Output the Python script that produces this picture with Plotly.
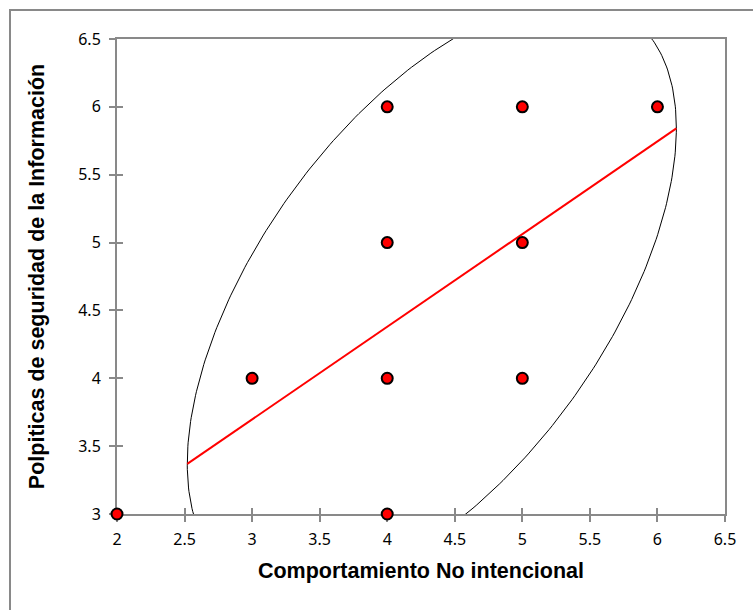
import numpy as np
import plotly.graph_objects as go

# Observed (x, y) pairs
comportamiento = [2, 3, 4, 4, 4, 4, 5, 5, 5, 6]
politicas = [3, 4, 3, 4, 5, 6, 4, 5, 6, 6]

# Bivariate summary used for the confidence ellipse and regression line
centro_x, centro_y = 4.33, 4.605
semi_x, semi_y = 1.81, 2.18
correlacion = 0.567

x_ticks = [2, 2.5, 3, 3.5, 4, 4.5, 5, 5.5, 6, 6.5]
y_ticks = [3, 3.5, 4, 4.5, 5, 5.5, 6, 6.5]

# Ellipse from the covariance structure
t = np.linspace(0, 2 * np.pi, 400)
ex = centro_x + semi_x * np.cos(t)
ey = centro_y + semi_y * (correlacion * np.cos(t) + np.sqrt(1 - correlacion ** 2) * np.sin(t))

# Regression of y on x, spanning the ellipse's x extent
pendiente = correlacion * semi_y / semi_x
rx = np.array([centro_x - semi_x, centro_x + semi_x])
ry = centro_y + pendiente * (rx - centro_x)

fig = go.Figure()
fig.add_trace(go.Scatter(x=ex, y=ey, mode="lines",
                         line=dict(color="black", width=1), hoverinfo="skip"))
fig.add_trace(go.Scatter(x=rx, y=ry, mode="lines",
                         line=dict(color="#ff0000", width=2), hoverinfo="skip"))
fig.add_trace(go.Scatter(x=comportamiento, y=politicas, mode="markers", cliponaxis=False,
                         marker=dict(color="#ff0000", size=11,
                                     line=dict(color="black", width=2))))
# Invisible trace so the inner-tick overlay axes are drawn
fig.add_trace(go.Scatter(x=[None], y=[None], xaxis="x2", yaxis="y2",
                         mode="markers", hoverinfo="skip"))

axis_gray = "#898989"
tick_font = dict(family="Noto Sans", size=16, color="black")
title_font = dict(family="Liberation Sans", size=21.5, color="black", weight="bold")

fig.update_layout(
    width=753, height=610,
    margin=dict(l=117, r=28, t=39, b=96),
    paper_bgcolor="white", plot_bgcolor="white",
    showlegend=False,
    xaxis=dict(range=[2, 6.5], tickvals=x_ticks, ticktext=[f"{v:g}" for v in x_ticks],
               showgrid=False, zeroline=False, showline=True, linecolor=axis_gray,
               linewidth=2, mirror=True, ticks="outside", ticklen=6, tickwidth=2,
               tickcolor=axis_gray, tickfont=tick_font, ticklabelstandoff=4,
               layer="below traces",
               title=dict(text="Comportamiento No intencional", font=title_font, standoff=14)),
    yaxis=dict(range=[3, 6.5], tickvals=y_ticks, ticktext=[f"{v:g}" for v in y_ticks],
               showgrid=False, zeroline=False, showline=True, linecolor=axis_gray,
               linewidth=2, mirror=True, ticks="outside", ticklen=6, tickwidth=2,
               tickcolor=axis_gray, tickfont=tick_font, ticklabelstandoff=5,
               layer="below traces",
               title=dict(text="Polpiticas de seguridad de la Información", font=title_font,
                          standoff=28)),
    xaxis2=dict(range=[2, 6.5], tickvals=x_ticks, overlaying="x", side="bottom",
                anchor="y2", showgrid=False, zeroline=False, showline=False,
                ticks="inside", ticklen=6, tickwidth=2, tickcolor=axis_gray,
                showticklabels=False, layer="below traces"),
    yaxis2=dict(range=[3, 6.5], tickvals=y_ticks, overlaying="y", side="left",
                anchor="x2", showgrid=False, zeroline=False, showline=False,
                ticks="inside", ticklen=6, tickwidth=2, tickcolor=axis_gray,
                showticklabels=False, layer="below traces"),
    shapes=[dict(type="rect", xref="paper", yref="paper",
                 x0=(10 - 117) / 608, x1=(770 - 117) / 608,
                 y0=(514 - 630) / 475, y1=1 + (39 - 10) / 475,
                 line=dict(color=axis_gray, width=2), fillcolor="rgba(0,0,0,0)",
                 layer="below")],
)

fig.write_html("out.html")
